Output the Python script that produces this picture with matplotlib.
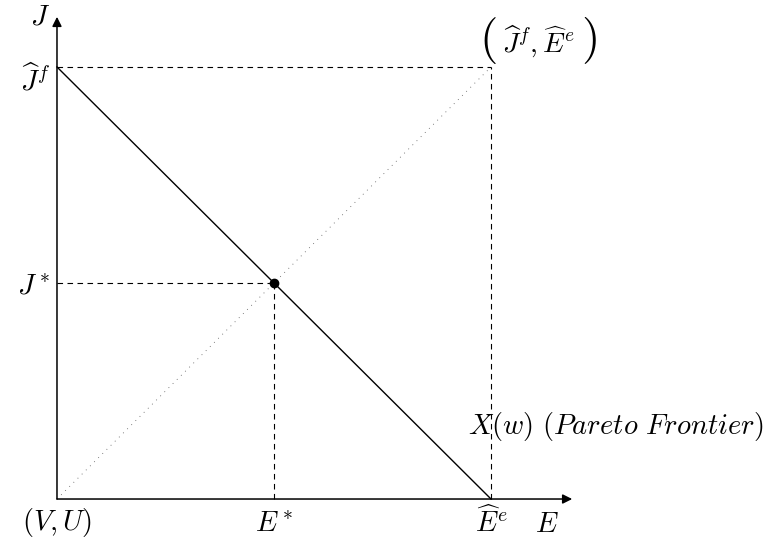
import matplotlib.pyplot as plt

plt.rcParams['mathtext.fontset'] = 'cm'
plt.rcParams['font.family'] = 'DejaVu Serif'

# data: Pareto frontier X(w) and its points
frontier_E = [0.0, 1.0]
frontier_J = [1.0, 0.0]
E_hat = 1.0
J_hat = 1.0
E_star = 0.5
J_star = 0.5
E_max = 1.187   # axis arrow ends
J_max = 1.116

fig = plt.figure(figsize=(7.74, 5.5), dpi=100)
ax = fig.add_axes([0, 0, 1, 1])
ax.set_xlim(-0.1313, 1.652)
ax.set_ylim(-0.118, 1.155)
ax.axis('off')

# axes with arrows
ax.annotate('', xy=(E_max, 0), xytext=(0, 0),
            arrowprops=dict(arrowstyle='-|>', color='black', lw=1.1, mutation_scale=14, shrinkA=0, shrinkB=0))
ax.annotate('', xy=(0, J_max), xytext=(0, 0),
            arrowprops=dict(arrowstyle='-|>', color='black', lw=1.1, mutation_scale=14, shrinkA=0, shrinkB=0))

# frontier
ax.plot(frontier_E, frontier_J, color='black', lw=1.0)

# dashed guides
dash = (0, (5, 4))
ax.plot([0, E_hat], [J_hat, J_hat], color='black', lw=0.8, ls=dash)
ax.plot([E_hat, E_hat], [0, J_hat], color='black', lw=0.8, ls=dash)
ax.plot([0, E_star], [J_star, J_star], color='black', lw=0.8, ls=dash)
ax.plot([E_star, E_star], [0, J_star], color='black', lw=0.8, ls=dash)

# dotted diagonal
ax.plot([0, E_hat], [0, J_hat], color='#555555', lw=0.6, ls=(0, (1, 6)))

# optimum point
ax.plot([E_star], [J_star], 'o', color='black', ms=6)

fs = 20.5
ax.text(-0.039, 1.116, '$J$', fontsize=fs, ha='center', va='center')
ax.text(-0.016, 0.97, r'$\widehat{J}^f$', fontsize=fs, ha='right', va='center')
ax.text(-0.016, 0.49, r'$J^*$', fontsize=fs, ha='right', va='center')
ax.text(0.0, -0.054, r'$(V,U)$', fontsize=fs, ha='center', va='center')
ax.text(E_star, -0.06, r'$E^*$', fontsize=fs, ha='center', va='center')
ax.text(E_hat, -0.054, r'$\widehat{E}^e$', fontsize=fs, ha='center', va='center')
ax.text(1.129, -0.06, r'$E$', fontsize=fs, ha='center', va='center')
ax.text(1.108, 1.058, r'$\widehat{J}^f, \widehat{E}^e$', fontsize=20, ha='center', va='center')
ax.text(0.992, 1.062, r'$($', fontsize=34, ha='center', va='center')
ax.text(1.226, 1.062, r'$)$', fontsize=34, ha='center', va='center')
ax.text(0.947, 0.167, r'$X(w)\ (Pareto\ Frontier)$', fontsize=fs, ha='left', va='center')

fig.savefig('out.png', dpi=100)
